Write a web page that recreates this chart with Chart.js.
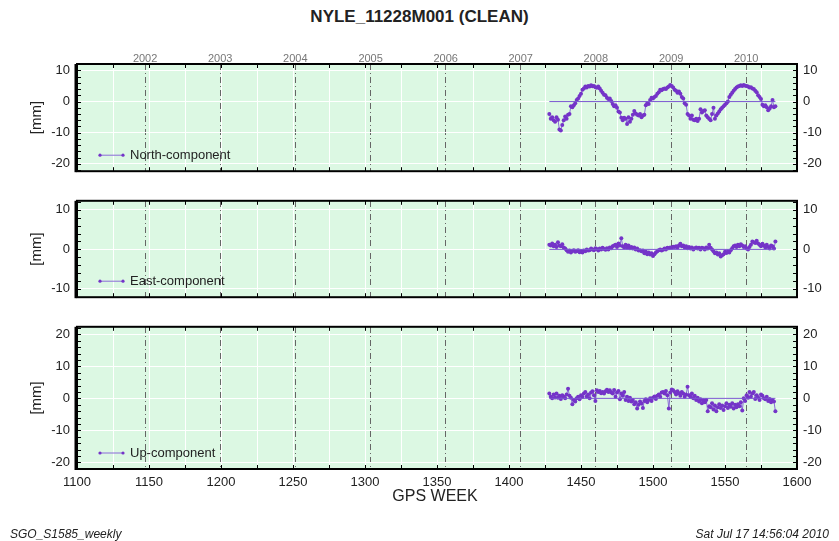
<!DOCTYPE html>
<html>
<head>
<meta charset="utf-8">
<script src="https://cdn.jsdelivr.net/npm/chart.js@4.4.1/dist/chart.umd.min.js"></script>
<style>
  body { margin: 0; background: #fff; font-family: "Liberation Sans", Arial, sans-serif; }
  .panel { position: absolute; left: 0; width: 839px; }
  .txt { position: absolute; color: #222; white-space: nowrap; }
</style>
</head>
<body>
<div class="txt" style="left:0;width:839px;top:7px;text-align:center;font-weight:bold;font-size:17px;">NYLE_11228M001 (CLEAN)</div>
<div class="panel" style="top:40px;height:146px;"><canvas id="northChart"></canvas></div>
<div class="panel" style="top:186px;height:126px;"><canvas id="eastChart"></canvas></div>
<div class="panel" style="top:312px;height:229px;"><canvas id="upChart"></canvas></div>
<div class="txt" style="left:335px;width:200px;top:487px;text-align:center;font-size:16px;">GPS WEEK</div>
<div class="txt" style="left:10px;top:527px;font-style:italic;font-size:12px;">SGO_S1585_weekly</div>
<div class="txt" style="right:10px;top:527px;font-style:italic;font-size:12px;">Sat Jul 17 14:56:04 2010</div>

<script>
// first GPS week of the series, one value per week after that
const FIRST_WEEK = 1428;

// North residuals [mm]
const northValues = [
    -4.0, -5.5, -5.0, -6.0, -6.5, -5.0, -5.8, -9.0, -9.3, -7.5,
    -6.0, -4.8, -5.5, -4.2, -4.0, -1.5, -1.8, -1.2, -0.5, 0.5,
    1.0, 1.8, 2.5, 3.8, 4.2, 4.8, 4.5, 5.0, 4.8, 5.2,
    4.9, 5.0, 4.6, 4.4, 4.8, 4.2, 3.5, 2.8, 2.2, 2.0,
    1.2, 0.8, 1.0, 0.2, -0.8, -1.5, -1.2, -2.0, -3.2, -3.5,
    -5.2, -6.0, -5.2, -5.5, -7.2, -5.0, -6.5, -5.5, -4.2, -3.0,
    -3.8, -4.2, -4.5, -4.0, -5.0, -4.5, -4.2, -1.2, -0.5, -0.8,
    0.5, 1.2, 1.0, 1.5, 1.8, 2.5, 3.0, 3.8, 3.6, 4.0,
    4.2, 4.0, 4.5, 4.8, 5.3, 5.0, 4.5, 3.8, 3.5, 2.8,
    3.2, 2.5, 1.5, 1.0, -0.5, -1.0, -4.0, -4.5, -5.5, -4.5,
    -5.8, -6.0, -5.5, -6.2, -5.5, -2.5, -3.5, -3.0, -2.8, -4.5,
    -5.0, -5.5, -6.0, -4.0, -2.0, -5.5, -4.5, -3.8, -3.2, -2.5,
    -2.0, -1.5, -1.0, -0.5, 0.0, 1.5, 2.2, 2.8, 3.5, 4.0,
    4.5, 4.8, 5.0, 5.2, 5.0, 5.3, 5.1, 5.0, 4.8, 4.5,
    4.6, 4.2, 4.0, 3.5, 3.0, 2.0, 1.5, 0.8, -1.0, -1.5,
    -1.2, -1.8, -2.8, -2.2, -1.5, 0.5, -1.8, -1.5
];

// East residuals [mm]
const eastValues = [
    1.2, 1.0, 1.5, 0.8, 1.2, 0.6, 1.8, 1.0, 0.8, 1.3,
    0.5, 0.2, -0.2, -0.6, -0.3, -0.8, -0.4, -0.2, -0.6, -0.5,
    -0.2, -0.7, -0.4, -0.8, -0.3, -0.5, 0.0, -0.3, -0.2, 0.2,
    0.0, -0.2, 0.3, 0.1, -0.3, 0.2, 0.0, 0.4, 0.1, -0.1,
    0.3, 0.0, 0.5, 0.3, 0.8, 1.0, 1.2, 0.6, 1.5, 1.0,
    2.8, 0.8, 0.5, 1.2, 0.4, 1.0, 0.3, 0.6, 0.2, 0.5,
    0.0, 0.2, -0.3, -0.2, -0.5, -0.3, -1.0, -0.6, -1.2, -0.8,
    -1.3, -1.0, -1.7, -1.2, -0.8, -0.5, -0.2, 0.0, -0.3, -0.1,
    0.2, 0.0, 0.4, 0.3, 0.5, 0.4, 0.7, 0.6, 0.8, 0.5,
    1.0, 1.4, 0.8, 1.0, 0.5, 0.8, 0.3, 0.6, 0.2, 0.5,
    0.0, 0.3, 0.5, 0.2, 0.4, 0.0, 0.4, 0.3, 0.0, 0.5,
    0.2, 1.2, 0.4, 0.0, -0.5, -1.0, -0.8, -1.3, -1.0, -1.8,
    -1.5, -1.2, -0.6, -0.9, -0.5, -0.8, -0.2, 0.3, 0.8, 1.0,
    0.6, 1.2, 0.8, 1.3, 1.0, 0.6, 0.8, 0.2, 0.0, 0.6,
    1.2, 2.0, 1.8, 1.6, 2.2, 1.5, 1.2, 0.8, 1.4, 1.0,
    0.5, 1.2, 0.6, 0.2, 1.0, 0.8, 0.2, 2.0
];

// Up residuals [mm]
const upValues = [
    1.5, 0.5, 0.0, 1.2, 0.3, 1.5, 0.2, 0.8, -0.2, 1.0,
    0.5, 0.0, 1.2, 3.0, 0.8, 0.2, -1.8, -0.5, -1.0, 0.0,
    0.5, -0.3, 1.0, 0.4, 1.5, 2.0, 0.6, 1.2, 0.0, 1.8,
    2.2, 1.0, -0.8, 2.5, 2.0, 2.3, 1.6, 2.0, 1.5, 2.2,
    2.7, 2.0, 2.5, 1.8, 1.5, 2.6, 0.5, 1.8, 2.3, -0.3,
    1.5, 0.8, 2.0, -0.5, 0.5, -0.8, 0.2, -1.0, -0.5, -1.8,
    -1.2, -3.2, -2.0, -1.0, -1.6, -3.0, -0.8, -0.3, -1.2, -0.5,
    0.0, -0.8, 0.2, 0.6, -0.2, 0.8, 1.2, 0.5, 1.8, 2.0,
    1.5, 2.3, 1.0, -3.2, 1.8, 2.8, 2.5, 2.0, 1.2, 2.2,
    1.6, 0.8, 2.0, 1.5, 0.5, 1.2, 3.6, 1.0, 0.5, 1.5,
    0.0, 0.8, -0.5, 0.2, -1.0, -0.3, -1.5, -0.6, -1.2, -0.5,
    -4.0, -2.5, -2.8, -1.5, -3.5, -2.2, -4.0, -2.8, -1.8, -3.0,
    -2.2, -3.6, -2.5, -1.5, -3.0, -2.0, -2.6, -1.5, -3.2, -2.0,
    -2.8, -1.8, -2.5, -1.2, -3.8, 0.0, -0.8, 1.0, 0.2, 2.0,
    0.5, 1.5, 2.0, -0.2, 1.0, 0.3, -0.5, 1.2, 0.8, 0.0,
    -0.3, 0.5, -0.8, -0.2, -1.2, -0.5, -1.0, -4.0
];

// year boundaries in GPS weeks (1 January of each year)
const yearWeeks = [1147.3, 1199.4, 1251.6, 1303.9, 1356.0, 1408.1, 1460.3, 1512.6, 1564.7];
const yearLabels = ['2002', '2003', '2004', '2005', '2006', '2007', '2008', '2009', '2010'];

// y tick labels for each panel
const northTicks = [-20, -10, 0, 10];
const eastTicks = [-10, 0, 10];
const upTicks = [-20, -10, 0, 10, 20];

const PLOT_BG = '#dcf8e3';
const DOT_COLOR = '#7434c8';
const LINE_COLOR = '#8a6ad8';
const ZERO_COLOR = '#7a58d0';
const FONT = '"Liberation Sans", Arial, sans-serif';

// green background, black frame, small inner ticks and the legend inside the plot
const panelPlugin = {
    id: 'panelDeco',
    beforeDraw(chart) {
        const { ctx, chartArea: a } = chart;
        ctx.save();
        ctx.fillStyle = PLOT_BG;
        ctx.fillRect(a.left, a.top, a.right - a.left, a.bottom - a.top);
        ctx.restore();
    },
    afterDraw(chart) {
        const { ctx, chartArea: a } = chart;
        const ys = chart.scales.y;
        const xs = chart.scales.x;
        ctx.save();
        ctx.strokeStyle = '#000';
        ctx.lineWidth = 1;
        ctx.beginPath();
        for (let v = Math.ceil(ys.min / 2) * 2; v <= ys.max; v += 2) {
            const py = Math.round(ys.getPixelForValue(v)) + 0.5;
            ctx.moveTo(a.left, py); ctx.lineTo(a.left + 4, py);
            ctx.moveTo(a.right, py); ctx.lineTo(a.right - 4, py);
        }
        xs.ticks.forEach(t => {
            const px = Math.round(xs.getPixelForValue(t.value)) + 0.5;
            ctx.moveTo(px, a.top); ctx.lineTo(px, a.top + 4);
            ctx.moveTo(px, a.bottom); ctx.lineTo(px, a.bottom - 4);
        });
        ctx.stroke();

        // frame
        ctx.lineWidth = 2;
        ctx.strokeRect(a.left, a.top, a.right - a.left, a.bottom - a.top);
        ctx.beginPath();
        ctx.moveTo(a.left - 1.5, a.top); ctx.lineTo(a.left - 1.5, a.bottom + 1);
        ctx.stroke();

        // legend
        const ly = a.bottom - 16;
        const lx = a.left + 23;
        ctx.strokeStyle = LINE_COLOR;
        ctx.lineWidth = 1;
        ctx.beginPath();
        ctx.moveTo(lx, ly); ctx.lineTo(lx + 23, ly);
        ctx.stroke();
        ctx.fillStyle = DOT_COLOR;
        [lx, lx + 23].forEach(px => {
            ctx.beginPath(); ctx.arc(px, ly, 1.6, 0, Math.PI * 2); ctx.fill();
        });
        ctx.fillStyle = '#222';
        ctx.font = '13px ' + FONT;
        ctx.textBaseline = 'middle';
        ctx.fillText(chart.options.plugins.panelDeco.label, lx + 30, ly);
        ctx.restore();
    }
};

function makePanel(canvasId, values, label, yMin, yMax, yTicks, padTop, padBottom, showYears, showWeeks) {
    const points = values.map((v, i) => ({ x: FIRST_WEEK + i, y: v }));
    const zeroLine = [{ x: FIRST_WEEK, y: 0 }, { x: FIRST_WEEK + values.length - 1, y: 0 }];
    const setTicks = list => scale => { scale.ticks = list.map(v => ({ value: v })); };
    const tickFont = { family: FONT, size: 13 };

    return new Chart(document.getElementById(canvasId), {
        type: 'scatter',
        data: {
            datasets: [
                {
                    label: 'zero',
                    data: zeroLine,
                    showLine: true,
                    borderColor: ZERO_COLOR,
                    borderWidth: 1,
                    pointRadius: 0
                },
                {
                    label: label,
                    data: points,
                    showLine: true,
                    borderColor: LINE_COLOR,
                    borderWidth: 1,
                    pointRadius: 2,
                    pointBackgroundColor: DOT_COLOR,
                    pointBorderWidth: 0
                }
            ]
        },
        options: {
            responsive: true,
            maintainAspectRatio: false,
            animation: false,
            layout: { padding: { top: padTop, bottom: padBottom, left: 0, right: 0 } },
            plugins: {
                legend: { display: false },
                tooltip: { enabled: false },
                panelDeco: { label: label }
            },
            scales: {
                x: {
                    type: 'linear',
                    position: 'bottom',
                    min: 1100,
                    max: 1600,
                    afterFit: s => { s.height = showWeeks ? 22 : 0; },
                    grid: { color: '#ffffff', lineWidth: 1, drawTicks: false },
                    border: { display: false },
                    ticks: {
                        display: showWeeks,
                        stepSize: 25,
                        autoSkip: false,
                        maxRotation: 0,
                        padding: 6,
                        color: '#222',
                        font: tickFont,
                        callback: v => (v % 50 === 0 ? String(v) : '')
                    }
                },
                yr: {
                    type: 'linear',
                    position: 'top',
                    min: 1100,
                    max: 1600,
                    afterFit: s => { s.height = showYears ? 20 : 0; },
                    afterBuildTicks: setTicks(yearWeeks),
                    grid: { color: '#666', lineWidth: 1, drawTicks: false },
                    border: { display: false, dash: [6, 3, 1, 3] },
                    ticks: {
                        display: showYears,
                        autoSkip: false,
                        maxRotation: 0,
                        padding: -2,
                        color: '#777',
                        font: { family: FONT, size: 11 },
                        callback: (v, i) => yearLabels[i]
                    }
                },
                y: {
                    position: 'left',
                    min: yMin,
                    max: yMax,
                    afterFit: s => { s.width = 77; },
                    afterBuildTicks: setTicks(yTicks),
                    grid: { color: '#ffffff', lineWidth: 1, drawTicks: false },
                    border: { display: false },
                    ticks: { padding: 7, color: '#222', font: tickFont },
                    title: {
                        display: true,
                        text: '[mm]',
                        color: '#222',
                        font: { family: FONT, size: 15 },
                        padding: { top: 28, bottom: 0 }
                    }
                },
                y2: {
                    position: 'right',
                    min: yMin,
                    max: yMax,
                    afterFit: s => { s.width = 42; },
                    afterBuildTicks: setTicks(yTicks),
                    grid: { drawOnChartArea: false, drawTicks: false },
                    border: { display: false },
                    ticks: { padding: 6, color: '#222', font: tickFont }
                }
            }
        },
        plugins: [panelPlugin]
    });
}

makePanel('northChart', northValues, 'North-component', -22.35, 12.06, northTicks, 4, 5, true, false);
makePanel('eastChart', eastValues, 'East-component', -12.1, 12.3, eastTicks, 4, 5, false, false);
makePanel('upChart', upValues, 'Up-component', -22.06, 22.35, upTicks, 6, 50, false, true);
</script>
</body>
</html>
